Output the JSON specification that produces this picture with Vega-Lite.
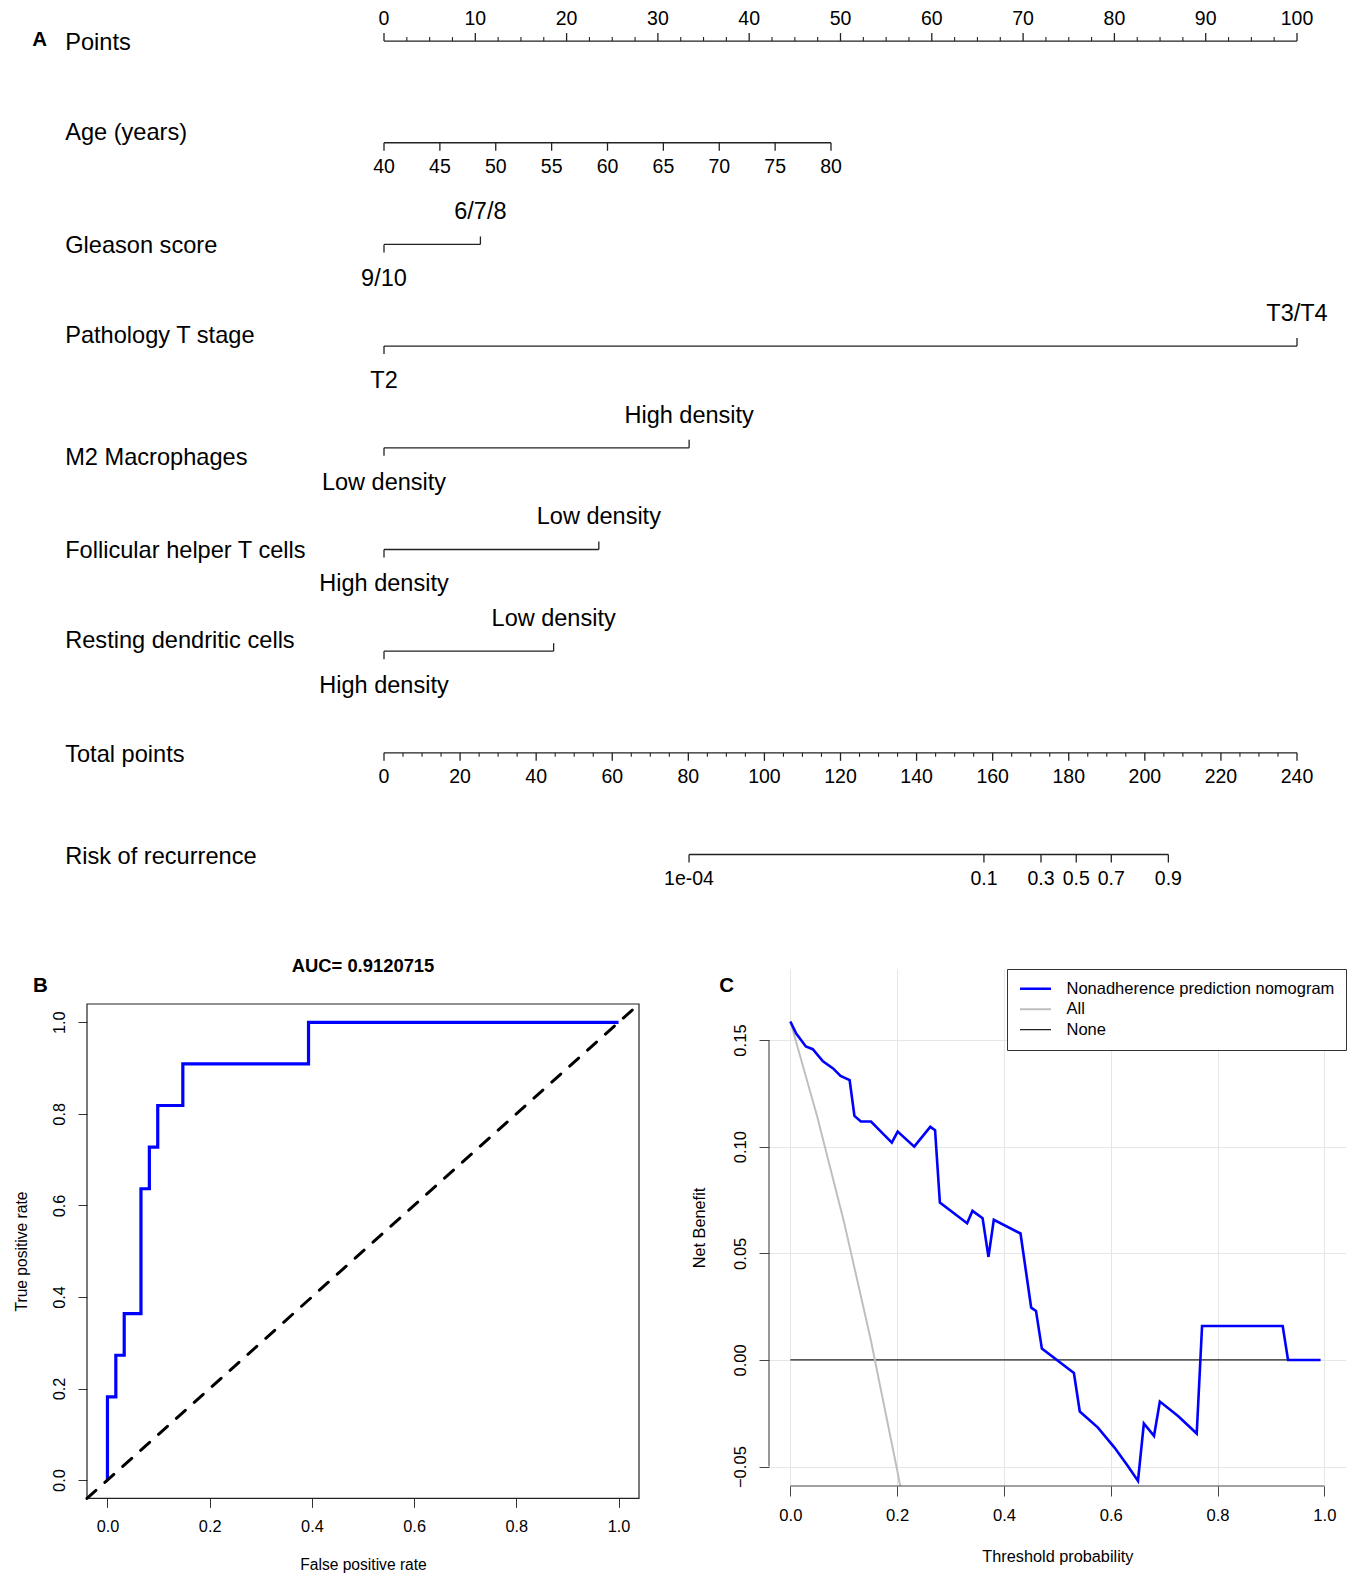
{
"$schema": "https://vega.github.io/schema/vega-lite/v6.json",
"padding": 0,
"background": "white",
"spacing": 0,
"bounds": "flush",
"resolve": {"scale": {"color": "independent", "strokeWidth": "independent"}, "legend": {"color": "independent", "strokeWidth": "independent"}},
"config": {
 "font": "Liberation Sans",
 "view": {"stroke": null},
 "axis": {"labelFont": "Liberation Sans", "titleFont": "Liberation Sans", "labelColor": "#000", "titleColor": "#000", "titleFontWeight": "normal", "tickColor": "#333", "labelFlush": false, "labelOverlap": false},
 "text": {"font": "Liberation Sans", "color": "#000"},
 "title": {"font": "Liberation Sans", "color": "#000"}
},
"datasets": {
 "nomoVars": [
  {"row":0,"name":"Points"},{"row":1,"name":"Age (years)"},{"row":2,"name":"Gleason score"},{"row":3,"name":"Pathology T stage"},{"row":4,"name":"M2 Macrophages"},{"row":5,"name":"Follicular helper T cells"},{"row":6,"name":"Resting dendritic cells"},{"row":7,"name":"Total points"},{"row":8,"name":"Risk of recurrence"}
 ],
 "nomoLines": [
  {"row":0,"pts":0,"pts2":100},{"row":1,"pts":0,"pts2":48.96},{"row":2,"pts":0,"pts2":10.56},{"row":3,"pts":0,"pts2":100},{"row":4,"pts":0,"pts2":33.42},{"row":5,"pts":0,"pts2":23.53},{"row":6,"pts":0,"pts2":18.58},{"row":7,"pts":0,"pts2":100},{"row":8,"pts":33.41,"pts2":85.91}
 ],
 "nticks": [
  {"row":0,"pts":0,"label":"0","side":"above","kind":"axis","tick":"major"},
  {"row":0,"pts":10,"label":"10","side":"above","kind":"axis","tick":"major"},
  {"row":0,"pts":20,"label":"20","side":"above","kind":"axis","tick":"major"},
  {"row":0,"pts":30,"label":"30","side":"above","kind":"axis","tick":"major"},
  {"row":0,"pts":40,"label":"40","side":"above","kind":"axis","tick":"major"},
  {"row":0,"pts":50,"label":"50","side":"above","kind":"axis","tick":"major"},
  {"row":0,"pts":60,"label":"60","side":"above","kind":"axis","tick":"major"},
  {"row":0,"pts":70,"label":"70","side":"above","kind":"axis","tick":"major"},
  {"row":0,"pts":80,"label":"80","side":"above","kind":"axis","tick":"major"},
  {"row":0,"pts":90,"label":"90","side":"above","kind":"axis","tick":"major"},
  {"row":0,"pts":100,"label":"100","side":"above","kind":"axis","tick":"major"},
  {"row":0,"pts":2.5,"side":"above","tick":"minor"},{"row":0,"pts":5,"side":"above","tick":"minor"},{"row":0,"pts":7.5,"side":"above","tick":"minor"},
  {"row":0,"pts":12.5,"side":"above","tick":"minor"},{"row":0,"pts":15,"side":"above","tick":"minor"},{"row":0,"pts":17.5,"side":"above","tick":"minor"},
  {"row":0,"pts":22.5,"side":"above","tick":"minor"},{"row":0,"pts":25,"side":"above","tick":"minor"},{"row":0,"pts":27.5,"side":"above","tick":"minor"},
  {"row":0,"pts":32.5,"side":"above","tick":"minor"},{"row":0,"pts":35,"side":"above","tick":"minor"},{"row":0,"pts":37.5,"side":"above","tick":"minor"},
  {"row":0,"pts":42.5,"side":"above","tick":"minor"},{"row":0,"pts":45,"side":"above","tick":"minor"},{"row":0,"pts":47.5,"side":"above","tick":"minor"},
  {"row":0,"pts":52.5,"side":"above","tick":"minor"},{"row":0,"pts":55,"side":"above","tick":"minor"},{"row":0,"pts":57.5,"side":"above","tick":"minor"},
  {"row":0,"pts":62.5,"side":"above","tick":"minor"},{"row":0,"pts":65,"side":"above","tick":"minor"},{"row":0,"pts":67.5,"side":"above","tick":"minor"},
  {"row":0,"pts":72.5,"side":"above","tick":"minor"},{"row":0,"pts":75,"side":"above","tick":"minor"},{"row":0,"pts":77.5,"side":"above","tick":"minor"},
  {"row":0,"pts":82.5,"side":"above","tick":"minor"},{"row":0,"pts":85,"side":"above","tick":"minor"},{"row":0,"pts":87.5,"side":"above","tick":"minor"},
  {"row":0,"pts":92.5,"side":"above","tick":"minor"},{"row":0,"pts":95,"side":"above","tick":"minor"},{"row":0,"pts":97.5,"side":"above","tick":"minor"},
  {"row":1,"pts":0,"label":"40","side":"below","kind":"axis","tick":"major"},
  {"row":1,"pts":6.12,"label":"45","side":"below","kind":"axis","tick":"major"},
  {"row":1,"pts":12.24,"label":"50","side":"below","kind":"axis","tick":"major"},
  {"row":1,"pts":18.36,"label":"55","side":"below","kind":"axis","tick":"major"},
  {"row":1,"pts":24.48,"label":"60","side":"below","kind":"axis","tick":"major"},
  {"row":1,"pts":30.6,"label":"65","side":"below","kind":"axis","tick":"major"},
  {"row":1,"pts":36.72,"label":"70","side":"below","kind":"axis","tick":"major"},
  {"row":1,"pts":42.84,"label":"75","side":"below","kind":"axis","tick":"major"},
  {"row":1,"pts":48.96,"label":"80","side":"below","kind":"axis","tick":"major"},
  {"row":2,"pts":0,"label":"9/10","side":"below","kind":"level","tick":"major"},
  {"row":2,"pts":10.56,"label":"6/7/8","side":"above","kind":"level","tick":"major"},
  {"row":3,"pts":0,"label":"T2","side":"below","kind":"level","tick":"major"},
  {"row":3,"pts":100,"label":"T3/T4","side":"above","kind":"level","tick":"major"},
  {"row":4,"pts":0,"label":"Low density","side":"below","kind":"level","tick":"major"},
  {"row":4,"pts":33.42,"label":"High density","side":"above","kind":"level","tick":"major"},
  {"row":5,"pts":0,"label":"High density","side":"below","kind":"level","tick":"major"},
  {"row":5,"pts":23.53,"label":"Low density","side":"above","kind":"level","tick":"major"},
  {"row":6,"pts":0,"label":"High density","side":"below","kind":"level","tick":"major"},
  {"row":6,"pts":18.58,"label":"Low density","side":"above","kind":"level","tick":"major"},
  {"row":7,"pts":0,"label":"0","side":"below","kind":"axis","tick":"major"},
  {"row":7,"pts":8.333,"label":"20","side":"below","kind":"axis","tick":"major"},
  {"row":7,"pts":16.667,"label":"40","side":"below","kind":"axis","tick":"major"},
  {"row":7,"pts":25,"label":"60","side":"below","kind":"axis","tick":"major"},
  {"row":7,"pts":33.333,"label":"80","side":"below","kind":"axis","tick":"major"},
  {"row":7,"pts":41.667,"label":"100","side":"below","kind":"axis","tick":"major"},
  {"row":7,"pts":50,"label":"120","side":"below","kind":"axis","tick":"major"},
  {"row":7,"pts":58.333,"label":"140","side":"below","kind":"axis","tick":"major"},
  {"row":7,"pts":66.667,"label":"160","side":"below","kind":"axis","tick":"major"},
  {"row":7,"pts":75,"label":"180","side":"below","kind":"axis","tick":"major"},
  {"row":7,"pts":83.333,"label":"200","side":"below","kind":"axis","tick":"major"},
  {"row":7,"pts":91.667,"label":"220","side":"below","kind":"axis","tick":"major"},
  {"row":7,"pts":100,"label":"240","side":"below","kind":"axis","tick":"major"},
  {"row":7,"pts":2.083,"side":"below","tick":"minor"},{"row":7,"pts":4.167,"side":"below","tick":"minor"},{"row":7,"pts":6.25,"side":"below","tick":"minor"},
  {"row":7,"pts":10.417,"side":"below","tick":"minor"},{"row":7,"pts":12.5,"side":"below","tick":"minor"},{"row":7,"pts":14.583,"side":"below","tick":"minor"},
  {"row":7,"pts":18.75,"side":"below","tick":"minor"},{"row":7,"pts":20.833,"side":"below","tick":"minor"},{"row":7,"pts":22.917,"side":"below","tick":"minor"},
  {"row":7,"pts":27.083,"side":"below","tick":"minor"},{"row":7,"pts":29.167,"side":"below","tick":"minor"},{"row":7,"pts":31.25,"side":"below","tick":"minor"},
  {"row":7,"pts":35.417,"side":"below","tick":"minor"},{"row":7,"pts":37.5,"side":"below","tick":"minor"},{"row":7,"pts":39.583,"side":"below","tick":"minor"},
  {"row":7,"pts":43.75,"side":"below","tick":"minor"},{"row":7,"pts":45.833,"side":"below","tick":"minor"},{"row":7,"pts":47.917,"side":"below","tick":"minor"},
  {"row":7,"pts":52.083,"side":"below","tick":"minor"},{"row":7,"pts":54.167,"side":"below","tick":"minor"},{"row":7,"pts":56.25,"side":"below","tick":"minor"},
  {"row":7,"pts":60.417,"side":"below","tick":"minor"},{"row":7,"pts":62.5,"side":"below","tick":"minor"},{"row":7,"pts":64.583,"side":"below","tick":"minor"},
  {"row":7,"pts":68.75,"side":"below","tick":"minor"},{"row":7,"pts":70.833,"side":"below","tick":"minor"},{"row":7,"pts":72.917,"side":"below","tick":"minor"},
  {"row":7,"pts":77.083,"side":"below","tick":"minor"},{"row":7,"pts":79.167,"side":"below","tick":"minor"},{"row":7,"pts":81.25,"side":"below","tick":"minor"},
  {"row":7,"pts":85.417,"side":"below","tick":"minor"},{"row":7,"pts":87.5,"side":"below","tick":"minor"},{"row":7,"pts":89.583,"side":"below","tick":"minor"},
  {"row":7,"pts":93.75,"side":"below","tick":"minor"},{"row":7,"pts":95.833,"side":"below","tick":"minor"},{"row":7,"pts":97.917,"side":"below","tick":"minor"},
  {"row":8,"pts":33.41,"label":"1e-04","side":"below","kind":"axis","tick":"major"},
  {"row":8,"pts":65.71,"label":"0.1","side":"below","kind":"axis","tick":"major"},
  {"row":8,"pts":71.96,"label":"0.3","side":"below","kind":"axis","tick":"major"},
  {"row":8,"pts":75.82,"label":"0.5","side":"below","kind":"axis","tick":"major"},
  {"row":8,"pts":79.66,"label":"0.7","side":"below","kind":"axis","tick":"major"},
  {"row":8,"pts":85.91,"label":"0.9","side":"below","kind":"axis","tick":"major"}
 ],
 "roc": [
  {"i":0,"fpr":0,"tpr":0},
  {"i":1,"fpr":0,"tpr":0.1818},
  {"i":2,"fpr":0.0164,"tpr":0.2727},
  {"i":3,"fpr":0.0328,"tpr":0.3636},
  {"i":4,"fpr":0.0656,"tpr":0.6364},
  {"i":5,"fpr":0.082,"tpr":0.7273},
  {"i":6,"fpr":0.0984,"tpr":0.8182},
  {"i":7,"fpr":0.1475,"tpr":0.9091},
  {"i":8,"fpr":0.3934,"tpr":1},
  {"i":9,"fpr":1,"tpr":1}
 ],
 "dca": [
  {"series":"None","t":0,"nb":0},{"series":"None","t":0.99,"nb":0},
  {"series":"All","t":0,"nb":0.1587},{"series":"All","t":0.05,"nb":0.1144},{"series":"All","t":0.1,"nb":0.0652},{"series":"All","t":0.15,"nb":0.0102},{"series":"All","t":0.2,"nb":-0.0516},{"series":"All","t":0.21,"nb":-0.0649},
  {"series":"Nonadherence prediction nomogram","t":0,"nb":0.1587},
  {"series":"Nonadherence prediction nomogram","t":0.011,"nb":0.153},
  {"series":"Nonadherence prediction nomogram","t":0.029,"nb":0.147},
  {"series":"Nonadherence prediction nomogram","t":0.042,"nb":0.1457},
  {"series":"Nonadherence prediction nomogram","t":0.061,"nb":0.14},
  {"series":"Nonadherence prediction nomogram","t":0.08,"nb":0.1367},
  {"series":"Nonadherence prediction nomogram","t":0.094,"nb":0.1332},
  {"series":"Nonadherence prediction nomogram","t":0.111,"nb":0.1312},
  {"series":"Nonadherence prediction nomogram","t":0.12,"nb":0.1144},
  {"series":"Nonadherence prediction nomogram","t":0.132,"nb":0.1118},
  {"series":"Nonadherence prediction nomogram","t":0.151,"nb":0.1118},
  {"series":"Nonadherence prediction nomogram","t":0.19,"nb":0.1019},
  {"series":"Nonadherence prediction nomogram","t":0.201,"nb":0.1071},
  {"series":"Nonadherence prediction nomogram","t":0.232,"nb":0.1},
  {"series":"Nonadherence prediction nomogram","t":0.262,"nb":0.1093},
  {"series":"Nonadherence prediction nomogram","t":0.271,"nb":0.1077},
  {"series":"Nonadherence prediction nomogram","t":0.28,"nb":0.0738},
  {"series":"Nonadherence prediction nomogram","t":0.331,"nb":0.0641},
  {"series":"Nonadherence prediction nomogram","t":0.341,"nb":0.0699},
  {"series":"Nonadherence prediction nomogram","t":0.36,"nb":0.0665},
  {"series":"Nonadherence prediction nomogram","t":0.371,"nb":0.0483},
  {"series":"Nonadherence prediction nomogram","t":0.381,"nb":0.0657},
  {"series":"Nonadherence prediction nomogram","t":0.431,"nb":0.0593},
  {"series":"Nonadherence prediction nomogram","t":0.451,"nb":0.0245},
  {"series":"Nonadherence prediction nomogram","t":0.46,"nb":0.023},
  {"series":"Nonadherence prediction nomogram","t":0.471,"nb":0.0053},
  {"series":"Nonadherence prediction nomogram","t":0.531,"nb":-0.0061},
  {"series":"Nonadherence prediction nomogram","t":0.542,"nb":-0.0242},
  {"series":"Nonadherence prediction nomogram","t":0.576,"nb":-0.0317},
  {"series":"Nonadherence prediction nomogram","t":0.607,"nb":-0.0411},
  {"series":"Nonadherence prediction nomogram","t":0.632,"nb":-0.0497},
  {"series":"Nonadherence prediction nomogram","t":0.651,"nb":-0.0567},
  {"series":"Nonadherence prediction nomogram","t":0.662,"nb":-0.0298},
  {"series":"Nonadherence prediction nomogram","t":0.681,"nb":-0.0356},
  {"series":"Nonadherence prediction nomogram","t":0.692,"nb":-0.0195},
  {"series":"Nonadherence prediction nomogram","t":0.726,"nb":-0.0263},
  {"series":"Nonadherence prediction nomogram","t":0.761,"nb":-0.0345},
  {"series":"Nonadherence prediction nomogram","t":0.771,"nb":0.0159},
  {"series":"Nonadherence prediction nomogram","t":0.922,"nb":0.0159},
  {"series":"Nonadherence prediction nomogram","t":0.932,"nb":0},
  {"series":"Nonadherence prediction nomogram","t":0.993,"nb":0}
 ]
},
"vconcat": [
 {
  "width": 1354,
  "height": 968.3,
  "layer": [
   {"data": {"name": "nomoLines"}, "mark": {"type": "rule", "color": "#222", "strokeWidth": 1.3},
    "encoding": {
     "x": {"field": "pts", "type": "quantitative", "scale": {"domain": [-42.059, 106.243], "nice": false, "zero": false}, "axis": null},
     "x2": {"field": "pts2"},
     "y": {"field": "row", "type": "quantitative", "scale": {"domain": [-0.404, 9.119], "reverse": true, "nice": false, "zero": false}, "axis": null}
    }},
   {"data": {"name": "nticks"}, "transform": [{"filter": "datum.tick === 'major' && datum.side === 'above'"}], "mark": {"type": "tick", "orient": "vertical", "size": 8, "thickness": 1.3, "yOffset": -4, "color": "#222", "opacity": 1},
    "encoding": {"x": {"field": "pts", "type": "quantitative"}, "y": {"field": "row", "type": "quantitative"}}},
   {"data": {"name": "nticks"}, "transform": [{"filter": "datum.tick === 'major' && datum.side === 'below'"}], "mark": {"type": "tick", "orient": "vertical", "size": 8, "thickness": 1.3, "yOffset": 4, "color": "#222", "opacity": 1},
    "encoding": {"x": {"field": "pts", "type": "quantitative"}, "y": {"field": "row", "type": "quantitative"}}},
   {"data": {"name": "nticks"}, "transform": [{"filter": "datum.tick === 'minor' && datum.side === 'above'"}], "mark": {"type": "tick", "orient": "vertical", "size": 4, "thickness": 1.1, "yOffset": -2, "color": "#222", "opacity": 1},
    "encoding": {"x": {"field": "pts", "type": "quantitative"}, "y": {"field": "row", "type": "quantitative"}}},
   {"data": {"name": "nticks"}, "transform": [{"filter": "datum.tick === 'minor' && datum.side === 'below'"}], "mark": {"type": "tick", "orient": "vertical", "size": 4, "thickness": 1.1, "yOffset": 2, "color": "#222", "opacity": 1},
    "encoding": {"x": {"field": "pts", "type": "quantitative"}, "y": {"field": "row", "type": "quantitative"}}},
   {"data": {"name": "nticks"}, "transform": [{"filter": "datum.tick === 'major' && datum.kind === 'axis' && datum.side === 'above'"}], "mark": {"type": "text", "fontSize": 19.5, "dy": -22, "baseline": "middle", "align": "center"},
    "encoding": {"x": {"field": "pts", "type": "quantitative"}, "y": {"field": "row", "type": "quantitative"}, "text": {"field": "label"}}},
   {"data": {"name": "nticks"}, "transform": [{"filter": "datum.tick === 'major' && datum.kind === 'axis' && datum.side === 'below'"}], "mark": {"type": "text", "fontSize": 19.5, "dy": 24, "baseline": "middle", "align": "center"},
    "encoding": {"x": {"field": "pts", "type": "quantitative"}, "y": {"field": "row", "type": "quantitative"}, "text": {"field": "label"}}},
   {"data": {"name": "nticks"}, "transform": [{"filter": "datum.kind === 'level' && datum.side === 'above'"}], "mark": {"type": "text", "fontSize": 23.5, "dy": -32, "baseline": "middle", "align": "center"},
    "encoding": {"x": {"field": "pts", "type": "quantitative"}, "y": {"field": "row", "type": "quantitative"}, "text": {"field": "label"}}},
   {"data": {"name": "nticks"}, "transform": [{"filter": "datum.kind === 'level' && datum.side === 'below'"}], "mark": {"type": "text", "fontSize": 23.5, "dy": 35, "baseline": "middle", "align": "center"},
    "encoding": {"x": {"field": "pts", "type": "quantitative"}, "y": {"field": "row", "type": "quantitative"}, "text": {"field": "label"}}},
   {"data": {"name": "nomoVars"}, "transform": [{"filter": "indexof(['Age (years)', 'Pathology T stage', 'Resting dendritic cells'], datum.name) >= 0"}],
    "mark": {"type": "text", "fontSize": 23.6, "baseline": "middle", "align": "left", "dy": -10},
    "encoding": {"x": {"datum": -34.92, "type": "quantitative"}, "y": {"field": "row", "type": "quantitative"}, "text": {"field": "name"}}},
   {"data": {"name": "nomoVars"}, "transform": [{"filter": "datum.name === 'M2 Macrophages'"}],
    "mark": {"type": "text", "fontSize": 23.6, "baseline": "middle", "align": "left", "dy": 10},
    "encoding": {"x": {"datum": -34.92, "type": "quantitative"}, "y": {"field": "row", "type": "quantitative"}, "text": {"field": "name"}}},
   {"data": {"name": "nomoVars"}, "transform": [{"filter": "indexof(['Age (years)', 'Pathology T stage', 'Resting dendritic cells', 'M2 Macrophages'], datum.name) < 0"}],
    "mark": {"type": "text", "fontSize": 23.6, "baseline": "middle", "align": "left", "dy": 2},
    "encoding": {"x": {"datum": -34.92, "type": "quantitative"}, "y": {"field": "row", "type": "quantitative"}, "text": {"field": "name"}}},
   {"data": {"values": [{"letter": "A"}]}, "mark": {"type": "text", "fontSize": 20.5, "fontWeight": "bold", "baseline": "middle", "align": "center", "dy": -1},
    "encoding": {"x": {"datum": -37.71, "type": "quantitative"}, "y": {"datum": 0, "type": "quantitative"}, "text": {"field": "letter"}}}
  ]
 },
 {
  "spacing": 0,
  "bounds": "flush",
  "resolve": {"scale": {"color": "independent", "strokeWidth": "independent"}, "legend": {"color": "independent", "strokeWidth": "independent"}},
  "hconcat": [
   {"width": 86.7, "height": 1, "data": {"values": [{}]}, "mark": {"type": "point", "opacity": 0}, "encoding": {}},
   {
    "width": 552,
    "height": 529.4,
    "layer": [
     {"data": {"values": [{"x1": -0.04, "x2": 1.04, "y1": -0.04, "y2": 1.04}]}, "mark": {"type": "rect", "fill": null, "fillOpacity": 0, "stroke": "#222", "strokeWidth": 1.2},
      "encoding": {
       "x": {"field": "x1", "type": "quantitative", "scale": {"domain": [-0.04, 1.04], "nice": false, "zero": false},
             "axis": {"values": [0, 0.2, 0.4, 0.6, 0.8, 1], "format": ".1f", "domain": false, "grid": false, "tickSize": 9, "labelFontSize": 16.3, "labelPadding": 11, "title": "False positive rate", "titleFontSize": 15.6, "titlePadding": 23}},
       "x2": {"field": "x2"},
       "y": {"field": "y1", "type": "quantitative", "scale": {"domain": [-0.04, 1.1164], "nice": false, "zero": false},
             "axis": {"values": [0, 0.2, 0.4, 0.6, 0.8, 1], "format": ".1f", "domain": false, "grid": false, "tickSize": 9, "labelAngle": -90, "labelAlign": "center", "labelBaseline": "bottom", "labelFontSize": 16.3, "labelPadding": 11, "title": "True positive rate", "titleFontSize": 15.6, "titlePadding": 22, "titleY": 282}},
       "y2": {"field": "y2"}
      }},
     {"data": {"name": "roc"}, "mark": {"type": "line", "interpolate": "step-after", "color": "#0000FF", "strokeWidth": 3.2},
      "encoding": {
       "x": {"field": "fpr", "type": "quantitative"},
       "y": {"field": "tpr", "type": "quantitative"},
       "order": {"field": "i", "type": "quantitative"}
      }},
     {"data": {"values": [{"fpr": -0.04, "tpr": -0.04}, {"fpr": 1.04, "tpr": 1.04}]}, "mark": {"type": "line", "color": "#000", "strokeWidth": 3, "strokeDash": [12, 12], "strokeCap": "round"},
      "encoding": {"x": {"field": "fpr", "type": "quantitative"}, "y": {"field": "tpr", "type": "quantitative"}}},
     {"data": {"values": [{"letter": "B"}]}, "mark": {"type": "text", "fontSize": 20.5, "fontWeight": "bold", "baseline": "middle", "align": "center"},
      "encoding": {"x": {"datum": -0.1313, "type": "quantitative"}, "y": {"datum": 1.0782, "type": "quantitative"}, "text": {"field": "letter"}}},
     {"data": {"values": [{"title": "AUC= 0.9120715"}]}, "mark": {"type": "text", "fontSize": 18.4, "fontWeight": "bold", "baseline": "middle", "align": "center"},
      "encoding": {"x": {"datum": 0.5, "type": "quantitative"}, "y": {"datum": 1.1238, "type": "quantitative"}, "text": {"field": "title"}}}
    ]
   },
   {"width": 129.2, "height": 1, "data": {"values": [{}]}, "mark": {"type": "point", "opacity": 0}, "encoding": {}},
   {
    "width": 576.7,
    "height": 517,
    "layer": [
     {"data": {"name": "dca"}, "transform": [{"filter": "datum.series === 'None'"}], "mark": {"type": "line", "clip": true},
      "encoding": {
       "x": {"field": "t", "type": "quantitative", "scale": {"domain": [-0.04, 1.04], "nice": false, "zero": false},
             "axis": {"values": [0, 0.2, 0.4, 0.6, 0.8, 1], "format": ".1f", "domain": false, "grid": true, "gridColor": "#e6e6e6", "tickSize": 10, "tickColor": "#444", "labelFontSize": 16.6, "labelPadding": 11, "title": "Threshold probability", "titleFontSize": 16.3, "titlePadding": 25}},
       "y": {"field": "nb", "type": "quantitative", "scale": {"domain": [-0.0591, 0.1833], "nice": false, "zero": false},
             "axis": {"values": [-0.05, 0, 0.05, 0.1, 0.15], "format": ".2f", "domain": false, "grid": true, "gridColor": "#e6e6e6", "tickSize": 10, "tickColor": "#444", "labelAngle": -90, "labelAlign": "center", "labelBaseline": "bottom", "labelFontSize": 16.6, "labelPadding": 11, "title": "Net Benefit", "titleFontSize": 16.3, "titlePadding": 25}},
       "color": {"field": "series", "type": "nominal",
                 "scale": {"domain": ["Nonadherence prediction nomogram", "All", "None"], "range": ["#0000FF", "#BEBEBE", "#222222"]},
                 "legend": {"orient": "top-right", "offset": 0, "title": null, "symbolType": "stroke", "symbolSize": 961, "labelFontSize": 16.5, "labelColor": "#000", "padding": 11.5, "rowPadding": 3.4, "clipHeight": 16.6, "labelOffset": 14, "strokeColor": "#333", "fillColor": "white", "labelLimit": 400}},
       "strokeWidth": {"field": "series", "type": "nominal",
                 "scale": {"domain": ["Nonadherence prediction nomogram", "All", "None"], "range": [2.6, 1.3, 1.3]},
                 "legend": {"orient": "top-right", "offset": 0, "title": null, "symbolType": "stroke", "symbolSize": 961, "labelFontSize": 16.5, "labelColor": "#000", "padding": 11.5, "rowPadding": 3.4, "clipHeight": 16.6, "labelOffset": 14, "strokeColor": "#333", "fillColor": "white", "labelLimit": 400}}
      }},
     {"data": {"name": "dca"}, "transform": [{"filter": "datum.series === 'All'"}], "mark": {"type": "line", "clip": true},
      "encoding": {"x": {"field": "t", "type": "quantitative"}, "y": {"field": "nb", "type": "quantitative"}, "color": {"field": "series", "type": "nominal"}, "strokeWidth": {"field": "series", "type": "nominal"}}},
     {"data": {"name": "dca"}, "transform": [{"filter": "datum.series === 'Nonadherence prediction nomogram'"}], "mark": {"type": "line", "clip": true},
      "encoding": {"x": {"field": "t", "type": "quantitative"}, "y": {"field": "nb", "type": "quantitative"}, "color": {"field": "series", "type": "nominal"}, "strokeWidth": {"field": "series", "type": "nominal"}}},
     {"data": {"values": [{}]}, "mark": {"type": "rule", "color": "#444", "strokeWidth": 1.1},
      "encoding": {"x": {"datum": 0, "type": "quantitative"}, "x2": {"datum": 1}, "y": {"datum": -0.0591, "type": "quantitative"}}},
     {"data": {"values": [{}]}, "mark": {"type": "rule", "color": "#444", "strokeWidth": 1.1},
      "encoding": {"x": {"datum": -0.04, "type": "quantitative"}, "y": {"datum": -0.05, "type": "quantitative"}, "y2": {"datum": 0.15}}},
     {"data": {"values": [{"letter": "C"}]}, "mark": {"type": "text", "fontSize": 20.5, "fontWeight": "bold", "baseline": "middle", "align": "center"},
      "encoding": {"x": {"datum": -0.1195, "type": "quantitative"}, "y": {"datum": 0.1751, "type": "quantitative"}, "text": {"field": "letter"}}}
    ]
   }
  ]
 }
]
}
